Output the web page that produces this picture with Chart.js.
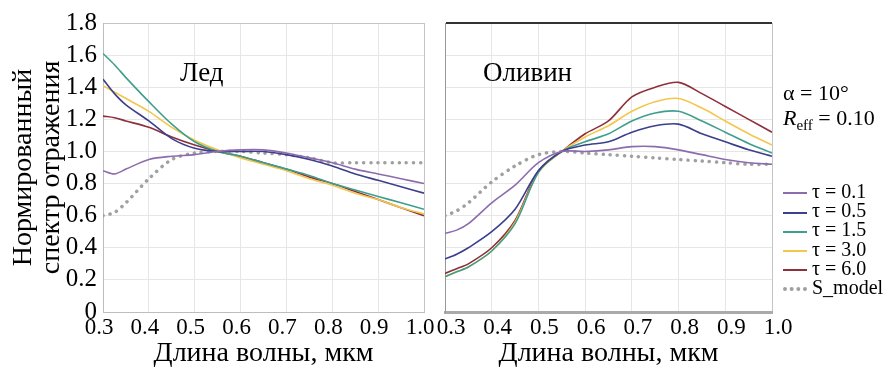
<!DOCTYPE html>
<html>
<head>
<meta charset="utf-8">
<script src="https://cdn.jsdelivr.net/npm/chart.js@4"></script>
<style>
  body { margin: 0; background: #fff; }
  #wrap { position: relative; width: 883px; height: 370px; font-family: "Liberation Serif", "Times New Roman", Tinos, "Nimbus Roman", "DejaVu Serif", serif; color: #000; }
  canvas { position: absolute; top: 0; }
  #iceChart { left: 0; }
  #olivChart { left: 427px; }
  .panel { position: absolute; font-size: 27px; line-height: 1; }
  .note { position: absolute; left: 783px; font-size: 22px; line-height: 1; }
  #legend { position: absolute; left: 783px; top: 182px; font-size: 20px; line-height: 19.2px; }
  #legend div { white-space: nowrap; }
  #legend span { display: inline-block; width: 24px; vertical-align: middle; margin-right: 5px; }
</style>
</head>
<body>
<div id="wrap">
  <canvas id="iceChart" width="450" height="370"></canvas>
  <canvas id="olivChart" width="373" height="370"></canvas>
  <div class="panel" style="left:180px; top:59px;">Лед</div>
  <div class="panel" style="left:483px; top:59px;">Оливин</div>
  <div class="note" style="top:82px;">α = 10°</div>
  <div class="note" style="top:107px;"><i>R</i><sub style="font-size:15px">eff</sub> = 0.10</div>
  <div id="legend"></div>
</div>
<script>
const wavelengths = [0.3, 0.325, 0.35, 0.4, 0.45, 0.5, 0.55, 0.6, 0.65, 0.7, 0.75, 0.8, 0.85, 0.9, 0.95, 1.0];
const seriesNames = ["τ = 0.1", "τ = 0.5", "τ = 1.5", "τ = 3.0", "τ = 6.0", "S_model"];
const seriesColors = ["#8d6cae", "#3c3f8c", "#3f9f8c", "#f4c64c", "#8e2f3c", "#a0a0a0"];

// ice (Лед)
const iceTau01 = [0.88, 0.86, 0.89, 0.95, 0.97, 0.98, 1.00, 1.01, 1.01, 0.99, 0.96, 0.93, 0.89, 0.86, 0.83, 0.80];
const iceTau05 = [1.45, 1.36, 1.29, 1.19, 1.08, 1.02, 1.00, 1.00, 1.00, 0.98, 0.95, 0.91, 0.86, 0.82, 0.78, 0.74];
const iceTau15 = [1.61, 1.54, 1.46, 1.31, 1.17, 1.06, 1.00, 0.97, 0.93, 0.89, 0.85, 0.80, 0.76, 0.72, 0.68, 0.64];
const iceTau30 = [1.41, 1.37, 1.33, 1.25, 1.15, 1.07, 1.01, 0.96, 0.92, 0.88, 0.83, 0.79, 0.74, 0.70, 0.65, 0.61];
const iceTau60 = [1.22, 1.21, 1.19, 1.15, 1.09, 1.04, 1.00, 0.97, 0.93, 0.89, 0.84, 0.80, 0.75, 0.70, 0.65, 0.60];
const iceModel = [0.60, 0.62, 0.68, 0.83, 0.95, 0.99, 1.00, 1.00, 0.99, 0.98, 0.96, 0.93, 0.93, 0.93, 0.93, 0.93];

// olivine (Оливин)
const olvTau01 = [0.49, 0.51, 0.55, 0.68, 0.79, 0.93, 1.00, 1.00, 1.01, 1.03, 1.03, 1.01, 0.98, 0.95, 0.93, 0.92];
const olvTau05 = [0.33, 0.36, 0.40, 0.50, 0.64, 0.88, 1.00, 1.04, 1.06, 1.12, 1.16, 1.17, 1.11, 1.06, 1.01, 0.97];
const olvTau15 = [0.22, 0.25, 0.28, 0.38, 0.55, 0.87, 1.00, 1.06, 1.11, 1.19, 1.24, 1.25, 1.19, 1.12, 1.05, 0.99];
const olvTau30 = [0.22, 0.25, 0.28, 0.38, 0.56, 0.87, 1.00, 1.09, 1.16, 1.25, 1.31, 1.33, 1.27, 1.19, 1.11, 1.04];
const olvTau60 = [0.24, 0.27, 0.30, 0.40, 0.57, 0.88, 1.00, 1.11, 1.19, 1.34, 1.40, 1.43, 1.36, 1.28, 1.20, 1.12];
const olvModel = [0.60, 0.63, 0.68, 0.81, 0.91, 0.98, 1.00, 0.99, 0.98, 0.97, 0.96, 0.95, 0.94, 0.93, 0.92, 0.92];

const xTicks = [0.3, 0.4, 0.5, 0.6, 0.7, 0.8, 0.9, 1.0];
const yTicks = [0, 0.2, 0.4, 0.6, 0.8, 1.0, 1.2, 1.4, 1.6, 1.8];

const serif = "'Liberation Serif', 'Times New Roman', Tinos, 'Nimbus Roman', 'DejaVu Serif', serif";
const near = (a, b) => Math.abs(a - b) < 1e-6;

function makeDatasets(list) {
    return list.map((vals, i) => ({
        label: seriesNames[i],
        data: vals.map((v, j) => ({ x: wavelengths[j], y: v })),
        borderColor: seriesColors[i],
        borderWidth: i === 5 ? 3.5 : 1.6,
        borderDash: i === 5 ? [0.1, 7] : [],
        borderCapStyle: i === 5 ? "round" : "butt",
        pointRadius: 0,
        tension: 0.3,
        fill: false
    }));
}

function xScale(frame, shift) {
    return {
        type: "linear",
        min: 0.3, max: 1.0,
        afterBuildTicks: s => { s.ticks = xTicks.map(v => ({ value: v })); },
        afterFit: s => { s.height = 58; },
        ticks: {
            callback: v => v.toFixed(1),
            font: { family: serif, size: 23 },
            color: "#000",
            padding: 2,
            labelOffset: shift,
            maxRotation: 0,
            autoSkip: false
        },
        grid: {
            drawTicks: false,
            color: c => near(c.tick.value, 1.0) ? frame.right : "#e6e6e6",
            lineWidth: 1
        },
        border: { color: frame.bottom, width: frame.bottomWidth },
        title: {
            display: true,
            text: "Длина волны, мкм",
            font: { family: serif, size: 28, lineHeight: 1.15 },
            color: "#000",
            padding: 0
        }
    };
}

function yScale(frame, showLabels) {
    return {
        type: "linear",
        min: 0, max: 1.8,
        afterBuildTicks: s => { s.ticks = yTicks.map(v => ({ value: v })); },
        afterFit: s => { s.width = showLabels ? 103 : 0; },
        ticks: {
            display: showLabels,
            autoSkip: false,
            callback: v => v === 0 ? "0" : v.toFixed(1),
            font: { family: serif, size: 25 },
            color: "#000",
            padding: 6
        },
        grid: {
            drawTicks: false,
            color: c => near(c.tick.value, 1.8) ? frame.top : "#e6e6e6",
            lineWidth: c => near(c.tick.value, 1.8) ? frame.topWidth : 1
        },
        border: { color: frame.left, width: 1 },
        title: {
            display: showLabels,
            text: ["Нормированный", "спектр отражения"],
            font: { family: serif, size: 28, lineHeight: 0.98 },
            color: "#000",
            padding: { top: 10, bottom: 0 }
        }
    };
}

// ICE CHART
const iceFrame = { top: "#c4c4c4", topWidth: 1, right: "#c4c4c4", bottom: "#bdbdbd", bottomWidth: 1, left: "#bdbdbd" };
new Chart(document.getElementById("iceChart"), {
    type: "line",
    data: { datasets: makeDatasets([iceTau01, iceTau05, iceTau15, iceTau30, iceTau60, iceModel]) },
    options: {
        responsive: false,
        animation: false,
        layout: { padding: { top: 23, right: 26, left: 0, bottom: 0 } },
        plugins: { legend: { display: false }, tooltip: { enabled: false } },
        scales: { x: xScale(iceFrame, -4), y: yScale(iceFrame, true) }
    }
});

// OLIVINE CHART
const olvFrame = { top: "#333333", topWidth: 2, right: "#c4c4c4", bottom: "#aaaaaa", bottomWidth: 3, left: "#999999" };
new Chart(document.getElementById("olivChart"), {
    type: "line",
    data: { datasets: makeDatasets([olvTau01, olvTau05, olvTau15, olvTau30, olvTau60, olvModel]) },
    options: {
        responsive: false,
        animation: false,
        layout: { padding: { top: 23, right: 28, left: 18, bottom: 0 } },
        plugins: { legend: { display: false }, tooltip: { enabled: false } },
        scales: { x: xScale(olvFrame, 6), y: yScale(olvFrame, false) }
    }
});

// LEGEND
const legend = document.getElementById("legend");
seriesNames.forEach((name, i) => {
    const row = document.createElement("div");
    const mark = document.createElement("span");
    mark.style.borderTop = i === 5 ? "4px dotted " + seriesColors[i] : "2px solid " + seriesColors[i];
    row.appendChild(mark);
    row.appendChild(document.createTextNode(name));
    legend.appendChild(row);
});
</script>
</body>
</html>
